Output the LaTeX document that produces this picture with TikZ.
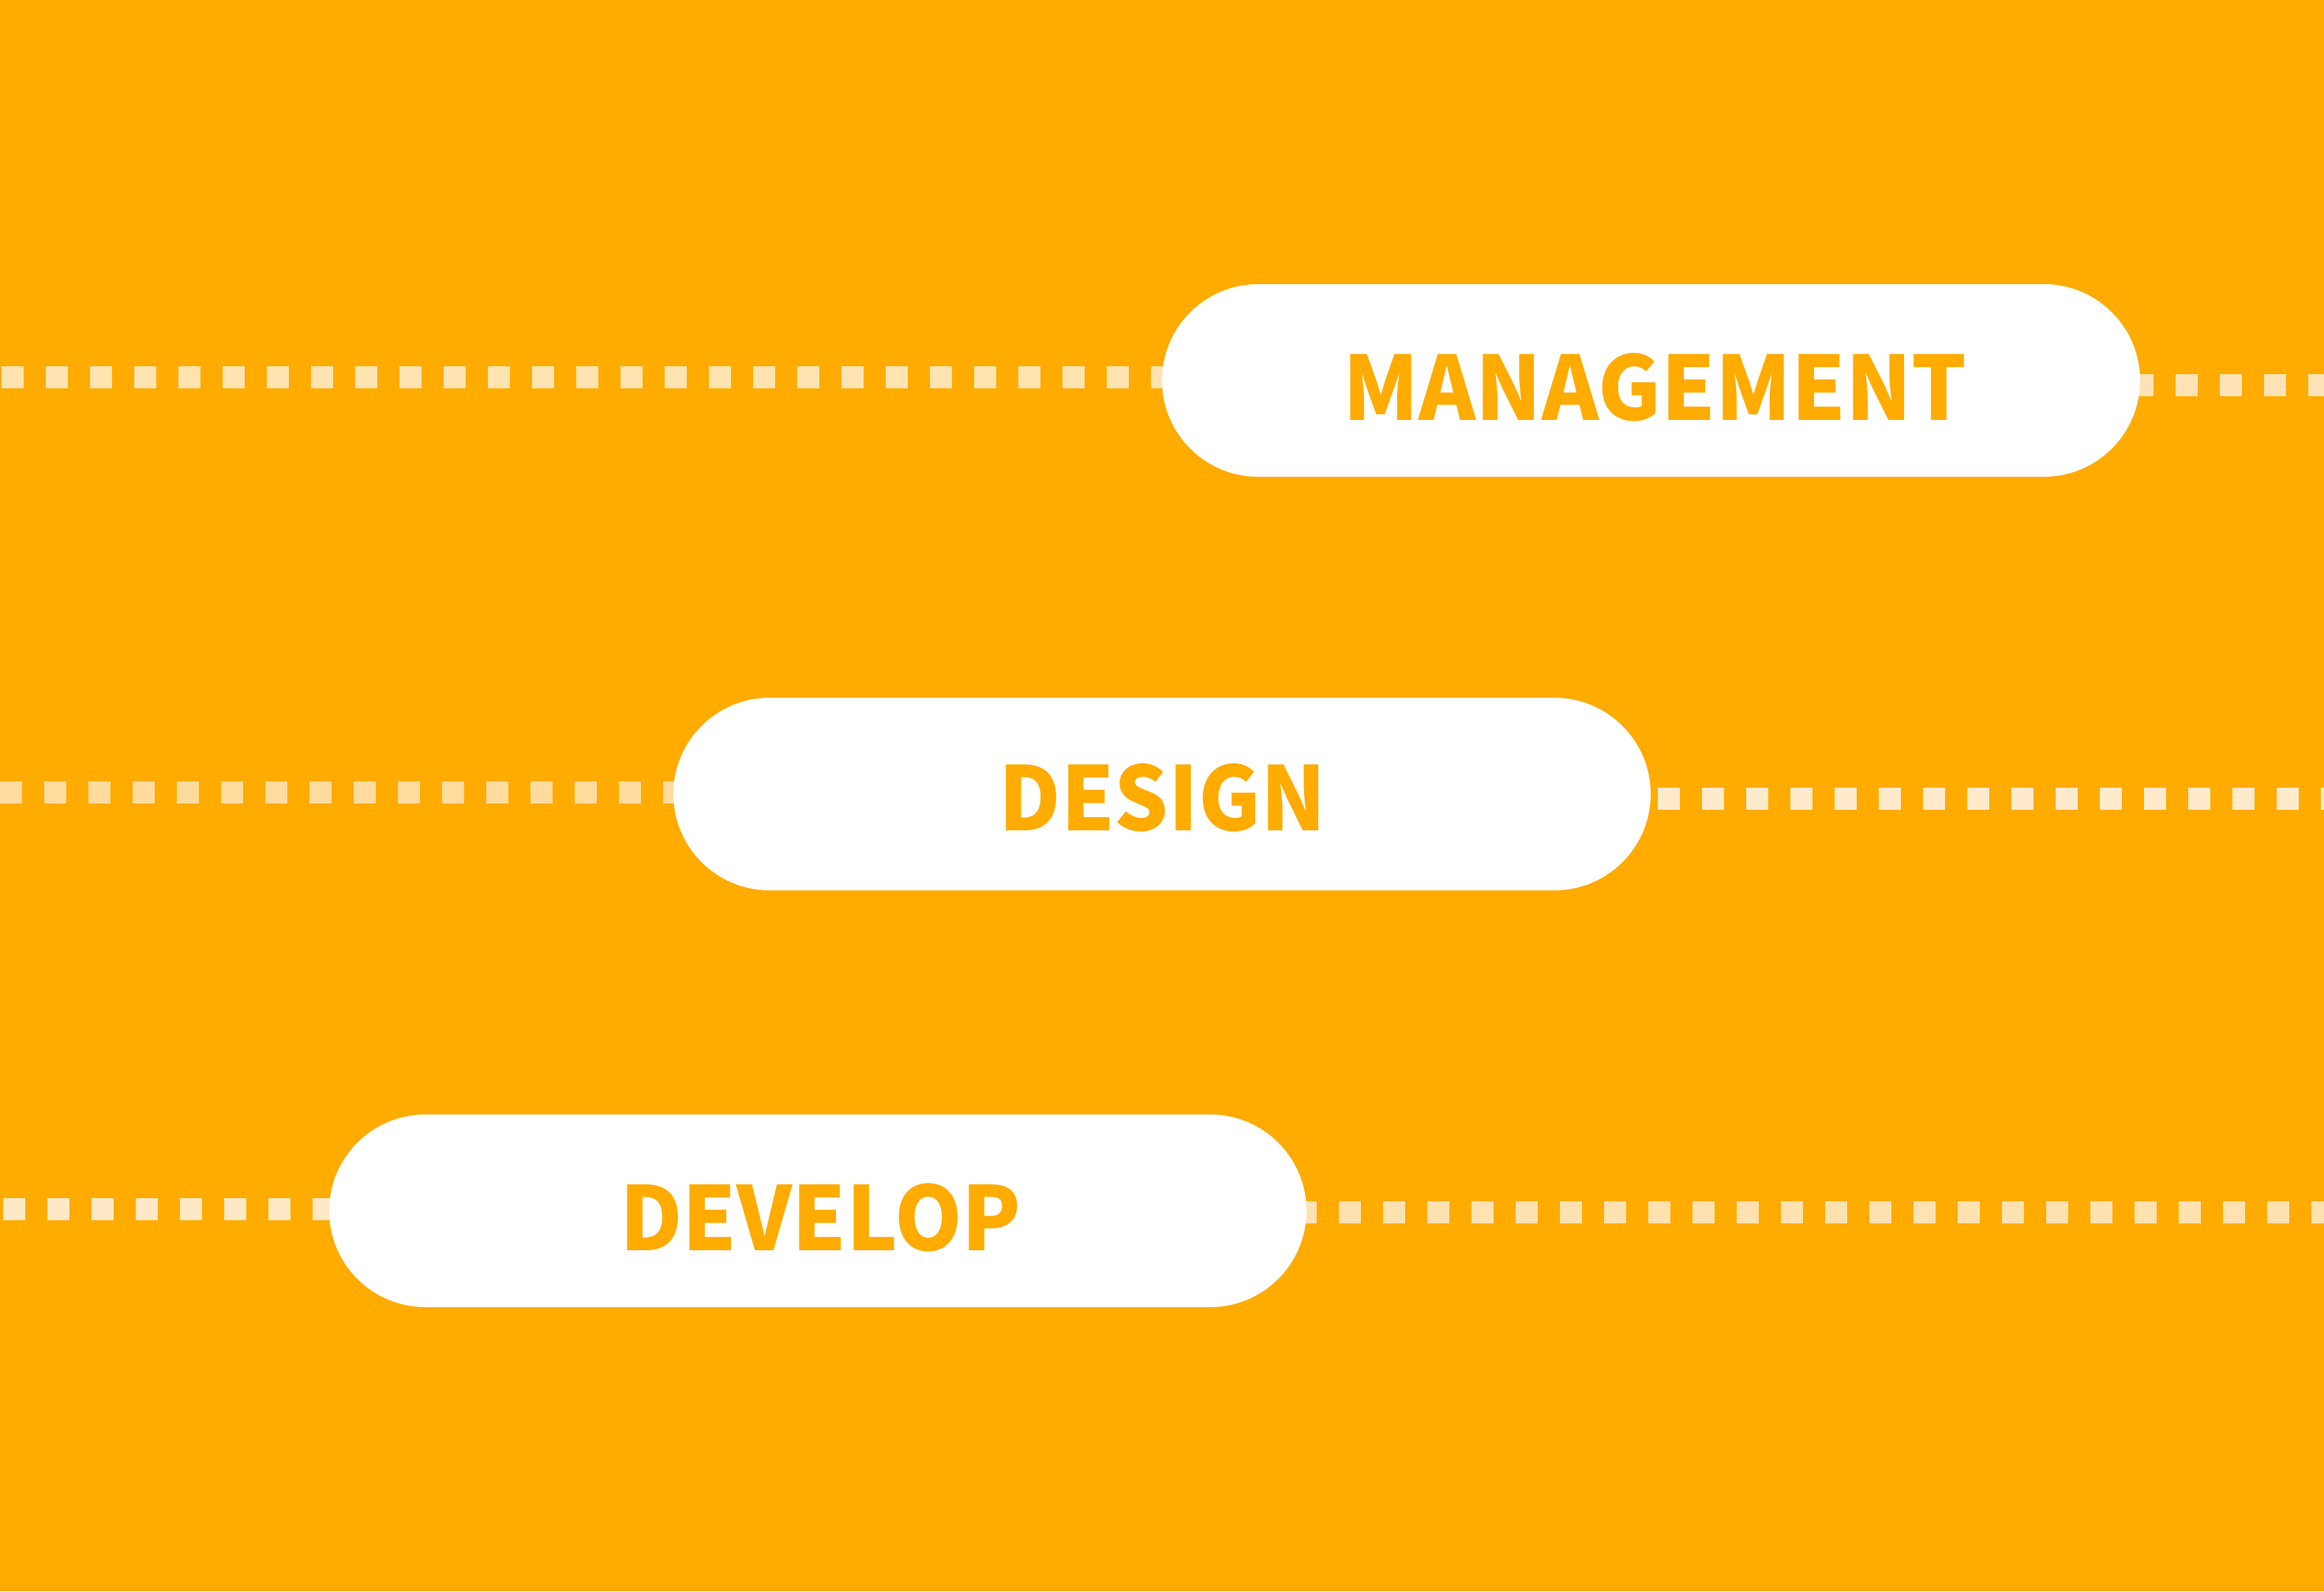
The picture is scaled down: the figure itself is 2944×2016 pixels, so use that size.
\documentclass[tikz,border=0pt]{standalone}
\usepackage{graphicx}
\usepackage{fontspec}
\newfontfamily\labelfont{Noto Sans CJK SC}
\usetikzlibrary{backgrounds}
\definecolor{bgorange}{HTML}{FFAB00}
\definecolor{dashA}{HTML}{FFE4B2}
\definecolor{dashB}{HTML}{FFE3B6}
\definecolor{dashC}{HTML}{FFDC9E}
\definecolor{dashD}{HTML}{FFEBCB}
\definecolor{dashE}{HTML}{FFE8C6}
\definecolor{dashF}{HTML}{FFE2B0}
\newcommand{\pilllabel}[2]{\resizebox{#1}{85pt}{\labelfont\bfseries\fontsize{111}{115}\selectfont #2}}
\tikzset{
  pill/.style={fill=white, draw=none, inner sep=0pt, minimum height=244pt,
    rounded corners=122pt},
  pilltext/.style={anchor=base, inner sep=0pt, text=bgorange},
  dashline/.style={line width=28pt, dash pattern=on 28pt off 28pt}
}
\begin{document}
\begin{tikzpicture}[x=1pt,y=-1pt]
\clip (0,0) rectangle (2944,2016);
% boxes
\node[pill, minimum width=1239pt] (mgmt) at (2091.5,482) {};
\node[pill, minimum width=1238pt] (design) at (1472,1006) {};
\node[pill, minimum width=1238pt] (develop) at (1036,1534) {};
% labels
\node[pilltext] (mgmtlabel) at (2096.5,532) {\pilllabel{790pt}{MANAGEMENT}};
\node[pilltext] (designlabel) at (1472.5,1052) {\pilllabel{414pt}{DESIGN}};
\node[pilltext] (developlabel) at (1039.5,1584) {\pilllabel{508pt}{DEVELOP}};
% edge coordinates
\coordinate (mL) at (2,478);
\coordinate (mR) at (2980,488);
\coordinate (dL) at (0,1004);
\coordinate (dR) at (2980,1012);
\coordinate (vL) at (4,1532);
\coordinate (vR) at (2980,1536);
\begin{scope}[on background layer]
  \fill[bgorange] (0,0) rectangle (2944,2016);
  \draw[dashline, dashA] (mL) -- (mL -| mgmt.center);
  \draw[dashline, dashB, dash phase=7.5pt] (mR -| mgmt.center) -- (mR);
  \draw[dashline, dashC] (dL) -- (dL -| design.center);
  \draw[dashline, dashD, dash phase=44pt] (dR -| design.center) -- (dR);
  \draw[dashline, dashE] (vL) -- (vL -| develop.center);
  \draw[dashline, dashF, dash phase=12pt] (vR -| develop.center) -- (vR);
\end{scope}
\end{tikzpicture}
\end{document}
